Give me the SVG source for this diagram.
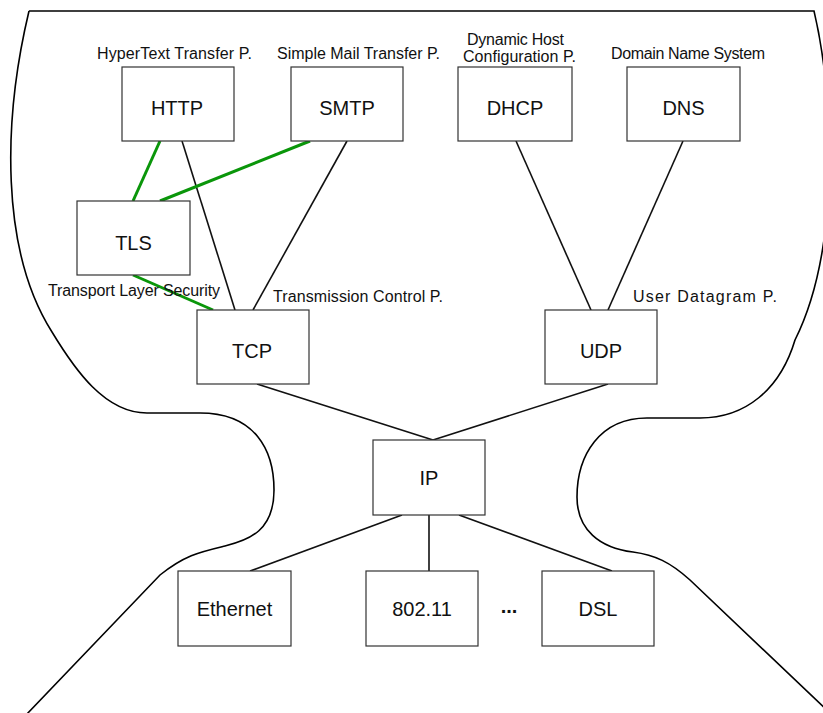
<svg xmlns="http://www.w3.org/2000/svg" width="823" height="713" viewBox="0 0 823 713">
<style>
.box{fill:#fff;stroke:#333;stroke-width:1.2}
.lbl{font-family:"Liberation Sans",Arial,sans-serif;font-size:20px;fill:#111;text-anchor:middle}
.cap{font-family:"Liberation Sans",Arial,sans-serif;font-size:16px;fill:#111}
.edge{stroke:#111;stroke-width:1.6;fill:none}
.tls{stroke:#0a960a;stroke-width:3;fill:none}
.outline{stroke:#000;stroke-width:1.6;fill:none}
</style>
<rect width="823" height="713" fill="#fff"/>
<path class="outline" d="M29,11 C3,120 0,250 52,332 C75,370 105,413 147,413 L200,413 C255,413 274,450 274,490 C274,530 250,540 225,546 C200,552 185,555 160,575 L26,715"/>
<path class="outline" d="M29,11 L814,11 C835,100 840,250 795,340 C780,390 745,418 700,418 L647,418 C600,418 577,455 577,497 C577,530 600,548 633,552 C655,555 670,562 690,580 L830,713"/>
<g id="connectors">
<line class="edge" x1="182" y1="141" x2="235" y2="310"/>
<line class="edge" x1="347" y1="141" x2="253" y2="310"/>
<line class="edge" x1="516" y1="141" x2="591" y2="310"/>
<line class="edge" x1="683" y1="141" x2="608" y2="310"/>
<line class="edge" x1="257" y1="384" x2="433" y2="440"/>
<line class="edge" x1="608" y1="384" x2="433" y2="440"/>
<line class="edge" x1="402" y1="515" x2="250" y2="571"/>
<line class="edge" x1="429" y1="515" x2="429" y2="571"/>
<line class="edge" x1="459" y1="515" x2="612" y2="571"/>
<line class="tls" x1="160" y1="141" x2="133" y2="201"/>
<line class="tls" x1="310" y1="141" x2="160" y2="201"/>
<line class="tls" x1="133" y1="275" x2="213" y2="310"/>
</g>
<g id="http"><rect class="box" x="122" y="67" width="112" height="74"/><text class="lbl" x="177" y="115">HTTP</text><text class="cap" x="97" y="59" textLength="155" lengthAdjust="spacing">HyperText Transfer P.</text></g>
<g id="smtp"><rect class="box" x="291" y="67" width="112" height="74"/><text class="lbl" x="347" y="115">SMTP</text><text class="cap" x="277" y="59" textLength="163" lengthAdjust="spacing">Simple Mail Transfer P.</text></g>
<g id="dhcp"><rect class="box" x="458" y="67" width="114" height="74"/><text class="lbl" x="515" y="115">DHCP</text><text class="cap" x="467" y="45" textLength="97" lengthAdjust="spacing">Dynamic Host</text><text class="cap" x="463" y="62" textLength="113" lengthAdjust="spacing">Configuration P.</text></g>
<g id="dns"><rect class="box" x="627" y="67" width="113" height="74"/><text class="lbl" x="683.5" y="115">DNS</text><text class="cap" x="611" y="59" textLength="154" lengthAdjust="spacing">Domain Name System</text></g>
<g id="tls"><rect class="box" x="77" y="201" width="113" height="74"/><text class="lbl" x="133.5" y="250">TLS</text><text class="cap" x="48" y="296" textLength="172" lengthAdjust="spacing">Transport Layer Security</text></g>
<g id="tcp"><rect class="box" x="197" y="310" width="112" height="74"/><text class="lbl" x="252" y="358">TCP</text><text class="cap" x="273" y="302" textLength="170" lengthAdjust="spacing">Transmission Control P.</text></g>
<g id="udp"><rect class="box" x="545" y="310" width="112" height="74"/><text class="lbl" x="601" y="358">UDP</text><text class="cap" x="633" y="302" textLength="144" lengthAdjust="spacing">User Datagram P.</text></g>
<g id="ip"><rect class="box" x="373" y="440" width="112" height="75"/><text class="lbl" x="429" y="485">IP</text></g>
<g id="ethernet"><rect class="box" x="178" y="571" width="113" height="75"/><text class="lbl" x="234.5" y="616">Ethernet</text></g>
<g id="wifi"><rect class="box" x="366" y="571" width="112" height="75"/><text class="lbl" x="422" y="616">802.11</text></g>
<g id="dsl"><rect class="box" x="542" y="571" width="112" height="75"/><text class="lbl" x="598" y="616">DSL</text></g>
<text class="lbl" x="509" y="613" font-weight="bold">...</text>
</svg>
